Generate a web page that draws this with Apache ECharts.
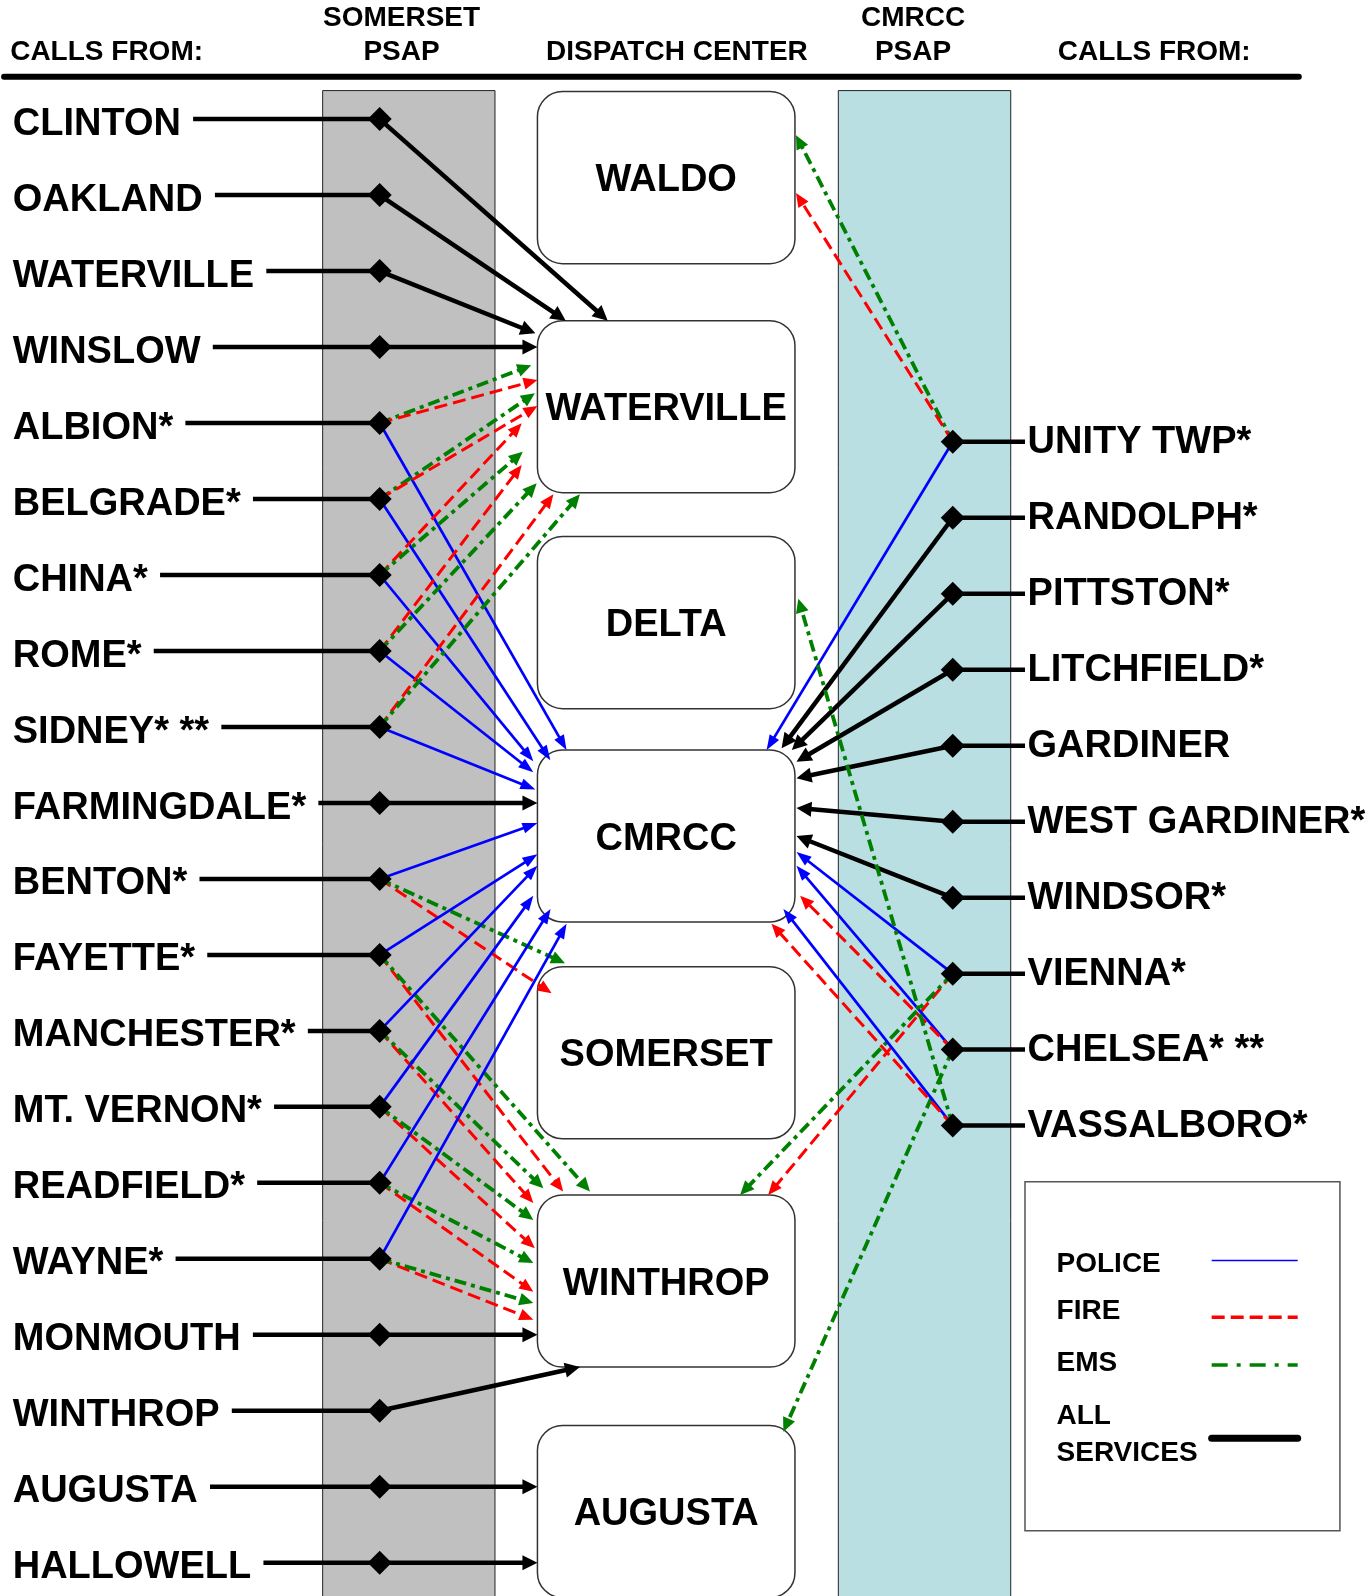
<!DOCTYPE html>
<html>
<head>
<meta charset="utf-8">
<title>Call routing</title>
<script src="https://cdn.jsdelivr.net/npm/echarts@6/dist/echarts.min.js"></script>
<style>
  html, body { margin: 0; padding: 0; background: #fff; }
  #chart { width: 1367px; height: 1596px; }
</style>
</head>
<body>
<div id="chart"></div>
<script>
// ---- data ----
const leftTowns = ['CLINTON', 'OAKLAND', 'WATERVILLE', 'WINSLOW', 'ALBION*', 'BELGRADE*', 'CHINA*', 'ROME*',
  'SIDNEY* **', 'FARMINGDALE*', 'BENTON*', 'FAYETTE*', 'MANCHESTER*', 'MT. VERNON*', 'READFIELD*', 'WAYNE*',
  'MONMOUTH', 'WINTHROP', 'AUGUSTA', 'HALLOWELL']
const rightTowns = ['UNITY TWP*', 'RANDOLPH*', 'PITTSTON*', 'LITCHFIELD*', 'GARDINER', 'WEST GARDINER*',
  'WINDSOR*', 'VIENNA*', 'CHELSEA* **', 'VASSALBORO*']
const centers = ['WALDO', 'WATERVILLE', 'DELTA', 'CMRCC', 'SOMERSET', 'WINTHROP', 'AUGUSTA']
const headerLabels = [['CALLS FROM:'], ['SOMERSET', 'PSAP'], ['DISPATCH CENTER'], ['CMRCC', 'PSAP'], ['CALLS FROM:']]
const bandNames = ['SOMERSET PSAP', 'CMRCC PSAP']
const serviceNames = ['POLICE', 'FIRE', 'EMS', 'ALL SERVICES']

// calls answered at the Somerset PSAP: [town, dispatch center, service]
const somersetLinks = [
  ['CLINTON', 'WATERVILLE', 'ALL SERVICES'],
  ['OAKLAND', 'WATERVILLE', 'ALL SERVICES'],
  ['WATERVILLE', 'WATERVILLE', 'ALL SERVICES'],
  ['WINSLOW', 'WATERVILLE', 'ALL SERVICES'],
  ['ALBION*', 'WATERVILLE', 'EMS'],
  ['ALBION*', 'WATERVILLE', 'FIRE'],
  ['ALBION*', 'CMRCC', 'POLICE'],
  ['BELGRADE*', 'WATERVILLE', 'EMS'],
  ['BELGRADE*', 'WATERVILLE', 'FIRE'],
  ['BELGRADE*', 'CMRCC', 'POLICE'],
  ['CHINA*', 'WATERVILLE', 'FIRE'],
  ['CHINA*', 'WATERVILLE', 'EMS'],
  ['CHINA*', 'CMRCC', 'POLICE'],
  ['ROME*', 'WATERVILLE', 'FIRE'],
  ['ROME*', 'WATERVILLE', 'EMS'],
  ['ROME*', 'CMRCC', 'POLICE'],
  ['SIDNEY* **', 'WATERVILLE', 'FIRE'],
  ['SIDNEY* **', 'WATERVILLE', 'EMS'],
  ['SIDNEY* **', 'CMRCC', 'POLICE'],
  ['FARMINGDALE*', 'CMRCC', 'ALL SERVICES'],
  ['BENTON*', 'CMRCC', 'POLICE'],
  ['BENTON*', 'SOMERSET', 'FIRE'],
  ['BENTON*', 'SOMERSET', 'EMS'],
  ['FAYETTE*', 'CMRCC', 'POLICE'],
  ['FAYETTE*', 'WINTHROP', 'FIRE'],
  ['FAYETTE*', 'WINTHROP', 'EMS'],
  ['MANCHESTER*', 'CMRCC', 'POLICE'],
  ['MANCHESTER*', 'WINTHROP', 'FIRE'],
  ['MANCHESTER*', 'WINTHROP', 'EMS'],
  ['MT. VERNON*', 'CMRCC', 'POLICE'],
  ['MT. VERNON*', 'WINTHROP', 'FIRE'],
  ['MT. VERNON*', 'WINTHROP', 'EMS'],
  ['READFIELD*', 'CMRCC', 'POLICE'],
  ['READFIELD*', 'WINTHROP', 'FIRE'],
  ['READFIELD*', 'WINTHROP', 'EMS'],
  ['WAYNE*', 'CMRCC', 'POLICE'],
  ['WAYNE*', 'WINTHROP', 'FIRE'],
  ['WAYNE*', 'WINTHROP', 'EMS'],
  ['MONMOUTH', 'WINTHROP', 'ALL SERVICES'],
  ['WINTHROP', 'WINTHROP', 'ALL SERVICES'],
  ['AUGUSTA', 'AUGUSTA', 'ALL SERVICES'],
  ['HALLOWELL', 'AUGUSTA', 'ALL SERVICES']
]

// calls answered at the CMRCC PSAP: [town, dispatch center, service]
const cmrccLinks = [
  ['UNITY TWP*', 'WALDO', 'EMS'],
  ['UNITY TWP*', 'WALDO', 'FIRE'],
  ['UNITY TWP*', 'CMRCC', 'POLICE'],
  ['RANDOLPH*', 'CMRCC', 'ALL SERVICES'],
  ['PITTSTON*', 'CMRCC', 'ALL SERVICES'],
  ['LITCHFIELD*', 'CMRCC', 'ALL SERVICES'],
  ['GARDINER', 'CMRCC', 'ALL SERVICES'],
  ['WEST GARDINER*', 'CMRCC', 'ALL SERVICES'],
  ['WINDSOR*', 'CMRCC', 'ALL SERVICES'],
  ['VIENNA*', 'CMRCC', 'POLICE'],
  ['VIENNA*', 'WINTHROP', 'FIRE'],
  ['VIENNA*', 'WINTHROP', 'EMS'],
  ['CHELSEA* **', 'CMRCC', 'POLICE'],
  ['CHELSEA* **', 'CMRCC', 'FIRE'],
  ['CHELSEA* **', 'AUGUSTA', 'EMS'],
  ['VASSALBORO*', 'CMRCC', 'POLICE'],
  ['VASSALBORO*', 'CMRCC', 'FIRE'],
  ['VASSALBORO*', 'DELTA', 'EMS']
]

// ---- layout (axis units follow the reference picture) ----
const L = {
  W: 1343, H: 1568,
  ruleY: 75.5, ruleX: [4, 1276],
  headerX: [10, 394.5, 665, 897, 1134],
  headerLineY: [17.5, 51.5],
  bandTop: 89, bands: [[317, 486.3], [823.6, 993]], bandColors: ['#c0c0c0', '#b9dfe2'],
  boxX: [528, 781], boxH: 169, boxTops: [90, 315, 527.2, 736.8, 949.7, 1174, 1400.6],
  leftTextX: 12.5, leftRow0: 122, rightRow0: 435, rowStep: 74.65,
  leftDiamondX: 373, rightDiamondX: 936, leftDiamondDy: -5, rightDiamondDy: -1,
  rightLeaderEnd: 1007, rightTextX: 1009.5, leaderGap: 12,
  legendBox: [1007, 1161, 1316.4, 1503.8], legendTextX: 1038,
  legendTextY: [1241.8, 1288.6, 1339.3, 1409.8],
  legendLineX: [1190.4, 1274.9], legendLineY: [1238.5, 1294.2, 1341, 1413]
}

// where each arrow meets its box, as fractions of box width / height
// (a null height fraction means the arrow runs straight across from the diamond)
const somersetPorts = [
  [0.273, 0], [0.11, 0], [-0.008, 0.074], [0, null],
  [-0.024, 0.26], [0, 0.345], [0.113, 0],
  [-0.01, 0.422], [0, 0.496], [0.05, 0.06],
  [-0.061, 0.597], [-0.057, 0.762], [-0.016, 0.066],
  [-0.061, 0.839], [-0.003, 0.946], [-0.016, 0.13],
  [0.062, 1.01], [0.165, 1.01], [-0.008, 0.23],
  [0, null],
  [0, 0.425], [0.055, 0.155], [0.107, -0.02],
  [0, 0.607], [0.1, -0.02], [0.204, -0.02],
  [0, 0.673], [-0.016, 0.047], [0.023, -0.039],
  [-0.016, 0.847], [-0.01, 0.31], [-0.016, 0.145],
  [0.051, 0.924], [-0.016, 0.562], [-0.016, 0.396],
  [0.113, 1.01], [-0.016, 0.725], [-0.016, 0.628],
  [0, null], [0.165, 1.0], [0, null], [0, null]
]
const cmrccPorts = [
  [1.004, 0.253], [1.004, 0.589], [0.89, 0],
  [0.948, -0.01], [0.988, 0], [1.006, 0.068], [1.006, 0.164], [1.006, 0.337], [1.006, 0.5],
  [1.006, 0.593], [0.896, 0], [0.787, 0],
  [1.006, 0.673], [1.02, 0.847], [0.955, 0.035],
  [0.955, 0.924], [0.909, 1.01], [1.013, 0.361]
]

const FONT = 'Arial, "Liberation Sans", sans-serif'
const BIG_FONT = 'bold 38px ' + FONT
const SMALL_FONT = 'bold 28px ' + FONT

const STYLE = {
  'POLICE': { color: '#0000ff', width: 2.7, dash: null, head: [15, 11], legendWidth: 1.5, legendDash: null },
  'FIRE': { color: '#ff0000', width: 3, dash: [13, 6], head: [14, 12], legendWidth: 3.5, legendDash: [13, 6] },
  'EMS': { color: '#008000', width: 3.8, dash: [12, 5, 4, 5], head: [14, 13], legendWidth: 3.5, legendDash: [16, 9, 4, 9] },
  'ALL SERVICES': { color: '#000000', width: 4.5, dash: null, head: [15, 15], legendWidth: 7, legendDash: null }
}

const measureCtx = document.createElement('canvas').getContext('2d')
function textWidth(t, font) {
  measureCtx.font = font
  return measureCtx.measureText(t).width
}

const leftRowY = (i) => L.leftRow0 + i * L.rowStep
const rightRowY = (j) => L.rightRow0 + j * L.rowStep

function diamond(p) {
  const h = 12
  return {
    type: 'polygon',
    shape: { points: [[p[0], p[1] - h], [p[0] + h, p[1]], [p[0], p[1] + h], [p[0] - h, p[1]]] },
    style: { fill: '#000' }
  }
}

const allLinks = somersetLinks.map((d, i) => ({ side: 'L', town: d[0], center: d[1], service: d[2], port: somersetPorts[i] }))
  .concat(cmrccLinks.map((d, i) => ({ side: 'R', town: d[0], center: d[1], service: d[2], port: cmrccPorts[i] })))

function custom(name, list, z, renderItem) {
  return {
    type: 'custom', name, coordinateSystem: 'cartesian2d', z, silent: true, clip: false,
    data: list.map((d, i) => [i, 0]),
    renderItem
  }
}

const chart = echarts.init(document.getElementById('chart'))

chart.setOption({
  animation: false,
  backgroundColor: '#fff',
  grid: { left: 0, right: 0, top: 0, bottom: 0 },
  xAxis: { type: 'value', min: 0, max: L.W, show: false },
  yAxis: { type: 'value', min: 0, max: L.H, inverse: true, show: false },
  series: [
    // PSAP bands
    custom('bands', bandNames, 1, (params, api) => {
      const i = params.dataIndex
      const a = api.coord([L.bands[i][0], L.bandTop])
      const b = api.coord([L.bands[i][1], L.H])
      return {
        type: 'rect',
        shape: { x: a[0], y: a[1], width: b[0] - a[0], height: b[1] - a[1] + 4 },
        style: { fill: L.bandColors[i], stroke: '#222', lineWidth: 1 }
      }
    }),
    // column headers and rule
    custom('headers', headerLabels, 2, (params, api) => {
      const i = params.dataIndex
      const lines = headerLabels[i]
      const children = lines.map((t, k) => {
        const y = L.headerLineY[L.headerLineY.length - lines.length + k]
        const p = api.coord([L.headerX[i], y])
        return {
          type: 'text',
          style: { text: t, x: p[0], y: p[1], font: SMALL_FONT, fill: '#000', align: i === 0 ? 'left' : 'center', verticalAlign: 'middle' }
        }
      })
      if (i === 0) {
        const a = api.coord([L.ruleX[0], L.ruleY]), b = api.coord([L.ruleX[1], L.ruleY])
        children.push({ type: 'line', shape: { x1: a[0], y1: a[1], x2: b[0], y2: b[1] }, style: { stroke: '#000', lineWidth: 6, lineCap: 'round' } })
      }
      return { type: 'group', children }
    }),
    // dispatch center boxes
    custom('centers', centers, 2, (params, api) => {
      const k = params.dataIndex
      const a = api.coord([L.boxX[0], L.boxTops[k]])
      const b = api.coord([L.boxX[1], L.boxTops[k] + L.boxH])
      const c = api.coord([(L.boxX[0] + L.boxX[1]) / 2, L.boxTops[k] + L.boxH / 2 + 3])
      return {
        type: 'group',
        children: [
          { type: 'rect', shape: { x: a[0], y: a[1], width: b[0] - a[0], height: b[1] - a[1], r: 25 }, style: { fill: '#fff', stroke: '#333', lineWidth: 1.5 } },
          { type: 'text', style: { text: centers[k], x: c[0], y: c[1], font: BIG_FONT, fill: '#000', align: 'center', verticalAlign: 'middle' } }
        ]
      }
    }),
    // towns calling into the Somerset PSAP
    custom('leftTowns', leftTowns, 3, (params, api) => {
      const i = params.dataIndex
      const t = api.coord([L.leftTextX, leftRowY(i)])
      const d = api.coord([L.leftDiamondX, leftRowY(i) + L.leftDiamondDy])
      const g = api.coord([L.leaderGap, 0])[0]
      const x1 = t[0] + textWidth(leftTowns[i], BIG_FONT) + g
      return {
        type: 'group',
        children: [
          { type: 'text', style: { text: leftTowns[i], x: t[0], y: t[1], font: BIG_FONT, fill: '#000', align: 'left', verticalAlign: 'middle' } },
          { type: 'line', shape: { x1, y1: d[1], x2: d[0], y2: d[1] }, style: { stroke: '#000', lineWidth: 4.5 } }
        ]
      }
    }),
    // towns calling into the CMRCC PSAP
    custom('rightTowns', rightTowns, 3, (params, api) => {
      const j = params.dataIndex
      const t = api.coord([L.rightTextX, rightRowY(j)])
      const d = api.coord([L.rightDiamondX, rightRowY(j) + L.rightDiamondDy])
      const e = api.coord([L.rightLeaderEnd, 0])[0]
      return {
        type: 'group',
        children: [
          { type: 'text', style: { text: rightTowns[j], x: t[0], y: t[1], font: BIG_FONT, fill: '#000', align: 'left', verticalAlign: 'middle' } },
          { type: 'line', shape: { x1: d[0], y1: d[1], x2: e, y2: d[1] }, style: { stroke: '#000', lineWidth: 4.5 } }
        ]
      }
    }),
    // routing arrows
    custom('links', allLinks, 4, (params, api) => {
      const lk = allLinks[params.dataIndex]
      let start
      if (lk.side === 'L') {
        const i = leftTowns.indexOf(lk.town)
        start = [L.leftDiamondX, leftRowY(i) + L.leftDiamondDy]
      } else {
        const j = rightTowns.indexOf(lk.town)
        start = [L.rightDiamondX, rightRowY(j) + L.rightDiamondDy]
      }
      const k = centers.indexOf(lk.center)
      const tipY = lk.port[1] === null ? start[1] : L.boxTops[k] + lk.port[1] * L.boxH
      const tip = [L.boxX[0] + lk.port[0] * (L.boxX[1] - L.boxX[0]), tipY]
      const p0 = api.coord(start), p1 = api.coord(tip)
      const st = STYLE[lk.service]
      const dx = p1[0] - p0[0], dy = p1[1] - p0[1]
      const len = Math.hypot(dx, dy)
      const ux = dx / len, uy = dy / len
      const bx = p1[0] - ux * st.head[0], by = p1[1] - uy * st.head[0]
      const hw = st.head[1] / 2
      const ex = p1[0] - ux * (st.head[0] - 2), ey = p1[1] - uy * (st.head[0] - 2)
      return {
        type: 'group',
        children: [
          { type: 'line', shape: { x1: p0[0], y1: p0[1], x2: ex, y2: ey }, style: { stroke: st.color, lineWidth: st.width, lineDash: st.dash } },
          { type: 'polygon', shape: { points: [[p1[0], p1[1]], [bx - uy * hw, by + ux * hw], [bx + uy * hw, by - ux * hw]] }, style: { fill: st.color } }
        ]
      }
    }),
    // PSAP diamonds
    custom('diamonds', leftTowns.concat(rightTowns), 5, (params, api) => {
      const n = params.dataIndex
      const p = n < leftTowns.length
        ? api.coord([L.leftDiamondX, leftRowY(n) + L.leftDiamondDy])
        : api.coord([L.rightDiamondX, rightRowY(n - leftTowns.length) + L.rightDiamondDy])
      return diamond(p)
    }),
    // legend
    custom('legend', serviceNames, 3, (params, api) => {
      const i = params.dataIndex
      const st = STYLE[serviceNames[i]]
      const t = api.coord([L.legendTextX, L.legendTextY[i]])
      const a = api.coord([L.legendLineX[0], L.legendLineY[i]])
      const b = api.coord([L.legendLineX[1], L.legendLineY[i]])
      const children = [
        { type: 'text', style: { text: serviceNames[i].replace(' ', '\n'), x: t[0], y: t[1], font: SMALL_FONT, lineHeight: 37, fill: '#000', align: 'left', verticalAlign: 'middle' } },
        { type: 'line', shape: { x1: a[0], y1: a[1], x2: b[0], y2: b[1] }, style: { stroke: st.color, lineWidth: st.legendWidth, lineDash: st.legendDash, lineCap: serviceNames[i] === 'ALL SERVICES' ? 'round' : 'butt' } }
      ]
      if (i === 0) {
        const p = api.coord([L.legendBox[0], L.legendBox[1]]), q = api.coord([L.legendBox[2], L.legendBox[3]])
        children.unshift({ type: 'rect', shape: { x: p[0], y: p[1], width: q[0] - p[0], height: q[1] - p[1] }, style: { fill: '#fff', stroke: '#555', lineWidth: 1.5 } })
      }
      return { type: 'group', children }
    })
  ]
})
</script>
</body>
</html>
